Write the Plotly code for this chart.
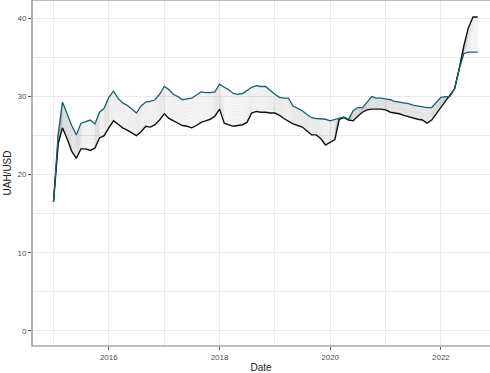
import pandas as pd
import plotly.graph_objects as go

# Monthly UAH/USD paths, Jan 2015 onward
START_MONTH = "2015-01-01"
upper_path = [
    16.5, 25.2, 29.3, 27.8, 26.3, 25.1, 26.6, 26.8, 27.0, 26.5, 28.0, 28.5,
    29.9, 30.7, 29.8, 29.2, 28.9, 28.4, 27.9, 28.8, 29.3, 29.4, 29.6, 30.3,
    31.3, 30.9, 30.3, 30.0, 29.6, 29.7, 29.8, 30.2, 30.6, 30.5, 30.5, 30.6,
    31.6, 31.2, 30.9, 30.4, 30.3, 30.4, 30.8, 31.2, 31.4, 31.3, 31.3, 30.8,
    30.3, 29.9, 29.8, 29.8, 28.8, 28.5, 28.2, 27.7, 27.3, 27.2, 27.1, 27.1,
    26.9, 27.1, 27.3, 27.4, 27.1, 28.2, 28.6, 28.6, 29.3, 30.0, 29.8, 29.8,
    29.7, 29.6, 29.4, 29.3, 29.2, 29.1, 28.9, 28.8, 28.7, 28.6, 28.6, 29.3,
    29.9, 30.0, 30.0, 31.0, 33.5, 35.5, 35.7, 35.7, 35.7,
]
lower_path = [
    16.5, 24.0, 26.0, 24.6, 23.0, 22.1, 23.3, 23.3, 23.1, 23.4, 24.7, 25.0,
    26.0, 26.9, 26.5, 26.0, 25.7, 25.3, 25.0, 25.5, 26.2, 26.1, 26.4, 27.0,
    27.8, 27.2, 26.9, 26.6, 26.3, 26.2, 26.0, 26.3, 26.7, 26.9, 27.1, 27.5,
    28.4, 26.6, 26.4, 26.2, 26.3, 26.4, 26.7, 27.9, 28.1, 28.0, 28.0, 27.9,
    27.9, 27.6, 27.2, 26.8, 26.5, 26.3, 26.1, 25.6, 25.1, 25.1, 24.6, 23.8,
    24.2, 24.5, 27.1, 27.3, 27.0, 26.9, 27.5, 28.0, 28.3, 28.4, 28.4, 28.4,
    28.3, 28.0, 27.9, 27.8, 27.6, 27.4, 27.3, 27.1, 27.0, 26.6, 27.0, 27.8,
    28.6, 29.4, 30.1, 31.0, 33.5, 36.5, 38.8, 40.2, 40.2,
]
# Shares of the upper path in each intermediate path
blend_shares = [0.05, 0.10, 0.15, 0.20, 0.25, 0.30, 0.35, 0.40, 0.45,
                0.50, 0.55, 0.60, 0.65, 0.70, 0.75, 0.80, 0.85, 0.90, 0.95]

dates = pd.date_range(START_MONTH, periods=len(upper_path), freq="MS")

fig = go.Figure()
for s in blend_shares:
    mixed = [s * u + (1 - s) * l for u, l in zip(upper_path, lower_path)]
    fig.add_trace(go.Scatter(x=dates, y=mixed, mode="lines",
                             line=dict(color="rgba(150,150,150,0.45)", width=0.4),
                             hoverinfo="skip", showlegend=False))
fig.add_trace(go.Scatter(x=dates, y=lower_path, mode="lines",
                         line=dict(color="#111111", width=1.4), showlegend=False))
fig.add_trace(go.Scatter(x=dates, y=upper_path, mode="lines",
                         line=dict(color="#1d5f6c", width=1.3), showlegend=False))

grid = "#ebebeb"
axis_font = dict(family="Liberation Sans, Arial, sans-serif", size=8, color="#4d4d5d")
fig.update_layout(
    width=490, height=373,
    margin=dict(l=32, r=0, t=0, b=25),
    paper_bgcolor="white", plot_bgcolor="white",
    font=dict(family="Liberation Sans, Arial, sans-serif"),
    xaxis=dict(
        type="date", range=["2014-08-12", "2022-11-21"],
        tick0="2016-01-01", dtick="M24", tickformat="%Y",
        showgrid=True, gridcolor=grid, gridwidth=0.8,
        minor=dict(tick0="2015-01-01", dtick="M24", showgrid=True,
                   gridcolor=grid, gridwidth=0.5),
        ticks="outside", ticklen=3, tickcolor="#555555", tickfont=axis_font,
        showline=False, zeroline=False,
        title=dict(text="Date", font=dict(size=10, color="#222222"), standoff=4),
    ),
    yaxis=dict(
        range=[-1.95, 42.38], tick0=0, dtick=10,
        showgrid=True, gridcolor=grid, gridwidth=0.8,
        minor=dict(dtick=5, showgrid=True, gridcolor=grid, gridwidth=0.5),
        ticks="outside", ticklen=3, tickcolor="#555555", tickfont=axis_font,
        showline=False, zeroline=False,
        title=dict(text="UAH/USD", font=dict(size=10, color="#222222"), standoff=3),
    ),
    shapes=[dict(type="rect", xref="paper", yref="paper", x0=0, x1=1.02, y0=0, y1=1,
                 line=dict(color="#7f7f7f", width=1.2), layer="above")],
)

fig.write_html("out.html")
